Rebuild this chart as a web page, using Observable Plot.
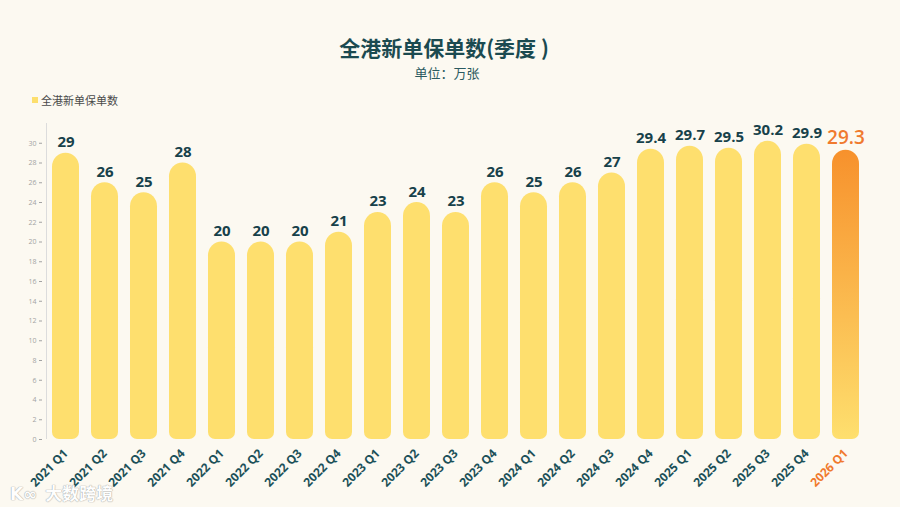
<!DOCTYPE html>
<html><head><meta charset="utf-8">
<script src="https://cdn.jsdelivr.net/npm/d3@7"></script>
<script src="https://cdn.jsdelivr.net/npm/@observablehq/plot@0.6"></script>
<style>
body{margin:0;background:#fcf9f1;font-family:"Open Sans","Noto Sans CJK SC",sans-serif;}
#wrap{position:relative;width:900px;height:507px;overflow:hidden;background:#fcf9f1;}
#head{position:relative;height:110px;}
.title{position:absolute;left:0;width:888px;top:32px;text-align:center;font-size:21px;font-weight:700;color:#1b4a50;font-family:"Noto Sans CJK SC",sans-serif;}
.sub{position:absolute;left:0;width:894px;top:63px;text-align:center;font-size:13px;color:#2a5a60;font-family:"Noto Sans CJK SC",sans-serif;}
.legend{position:absolute;left:32px;top:92px;font-size:11px;color:#4a4a4a;font-family:"Noto Sans CJK SC",sans-serif;display:flex;align-items:center;}
.legend span.sw{display:inline-block;width:6px;height:6px;background:#fddf6d;margin-right:3px;}
.wm{position:absolute;left:10px;top:480px;font-size:17px;font-weight:700;color:#ffffff;font-family:"Noto Sans CJK SC",sans-serif;text-shadow:0 0 1px #999,0 0 1px #999;opacity:0.9;}
.wm b{font-family:"DejaVu Sans",sans-serif;margin-right:8px;}
#chart{position:absolute;left:0;top:110px;}
</style>
</head><body>
<div id="wrap">
  <div id="head">
    <div class="title">全港新单保单数(季度 )</div>
    <div class="sub">单位：万张</div>
    <div class="legend"><span class="sw"></span>全港新单保单数</div>
  </div>
  <div id="chart"></div>
  <div class="wm"><b>K∞</b>大数跨境</div>
</div>
<script>
const quarters = ["2021 Q1","2021 Q2","2021 Q3","2021 Q4","2022 Q1","2022 Q2","2022 Q3","2022 Q4","2023 Q1","2023 Q2","2023 Q3","2023 Q4","2024 Q1","2024 Q2","2024 Q3","2024 Q4","2025 Q1","2025 Q2","2025 Q3","2025 Q4","2026 Q1"];
const values = [29,26,25,28,20,20,20,21,23,24,23,26,25,26,27,29.4,29.7,29.5,30.2,29.9,29.3];
const yTicks = [0,2,4,6,8,10,12,14,16,18,20,22,24,26,28,30];
const highlight = "2026 Q1";

const data = quarters.map((q, i) => ({q, v: values[i], last: q === highlight}));
const normal = data.filter(d => !d.last);
const last = data.filter(d => d.last);

const yellow = "#fedf6e";
const orange = "#f7912c";
const dark = "#17414a";
const labelOrange = "#f07a2e";

const defs = () => {
  const s = d3.create("svg:defs");
  const g = s.append("linearGradient").attr("id", "lastGrad").attr("x1", 0).attr("y1", 0).attr("x2", 0).attr("y2", 1);
  g.append("stop").attr("offset", "0%").attr("stop-color", orange);
  g.append("stop").attr("offset", "100%").attr("stop-color", yellow);
  return s.node();
};

const chart = Plot.plot({
  width: 900,
  height: 397,
  marginLeft: 42,
  marginRight: 32,
  marginTop: 13,
  marginBottom: 68,
  style: {background: "transparent", fontFamily: "'Open Sans', 'Noto Sans CJK SC', sans-serif"},
  x: {domain: quarters, paddingInner: 0.31, paddingOuter: 0.15, label: null},
  y: {domain: [0, 32], label: null},
  marks: [
    defs,
    Plot.axisY({ticks: yTicks, tickSize: 3, tickPadding: 3, fontSize: 7, color: "#a3a3a3", label: null}),
    // bottom halves (smaller corner radius at the base)
    Plot.barY(normal, {x: "q", y1: 0, y2: d => d.v / 2, fill: yellow, rx: 7}),
    Plot.barY(last, {x: "q", y1: 0, y2: d => d.v / 2, fill: yellow, rx: 7}),
    // full bars with rounded tops
    Plot.barY(normal, {x: "q", y: "v", fill: yellow, rx: 14}),
    Plot.barY(last, {x: "q", y: "v", fill: "url(#lastGrad)", rx: 14}),
    Plot.text(normal, {x: "q", y: "v", text: d => String(d.v), dy: -6, lineAnchor: "bottom", fontSize: 15, fontWeight: 700, fill: dark}),
    Plot.text(last, {x: "q", y: "v", text: d => String(d.v), dy: -6, lineAnchor: "bottom", fontSize: 19, fontWeight: 600, fill: labelOrange}),
    Plot.axisX({tickRotate: -45, tickSize: 0, tickPadding: 12, fontSize: 12, fontWeight: 700, fill: d => d === highlight ? labelOrange : "#1b5058", label: null}),
    Plot.ruleX([quarters[0]], {dx: -19.5, y1: 0, y2: 32, stroke: "#dcdcdc"})
  ]
});
document.getElementById("chart").appendChild(chart);
</script>
</body></html>
